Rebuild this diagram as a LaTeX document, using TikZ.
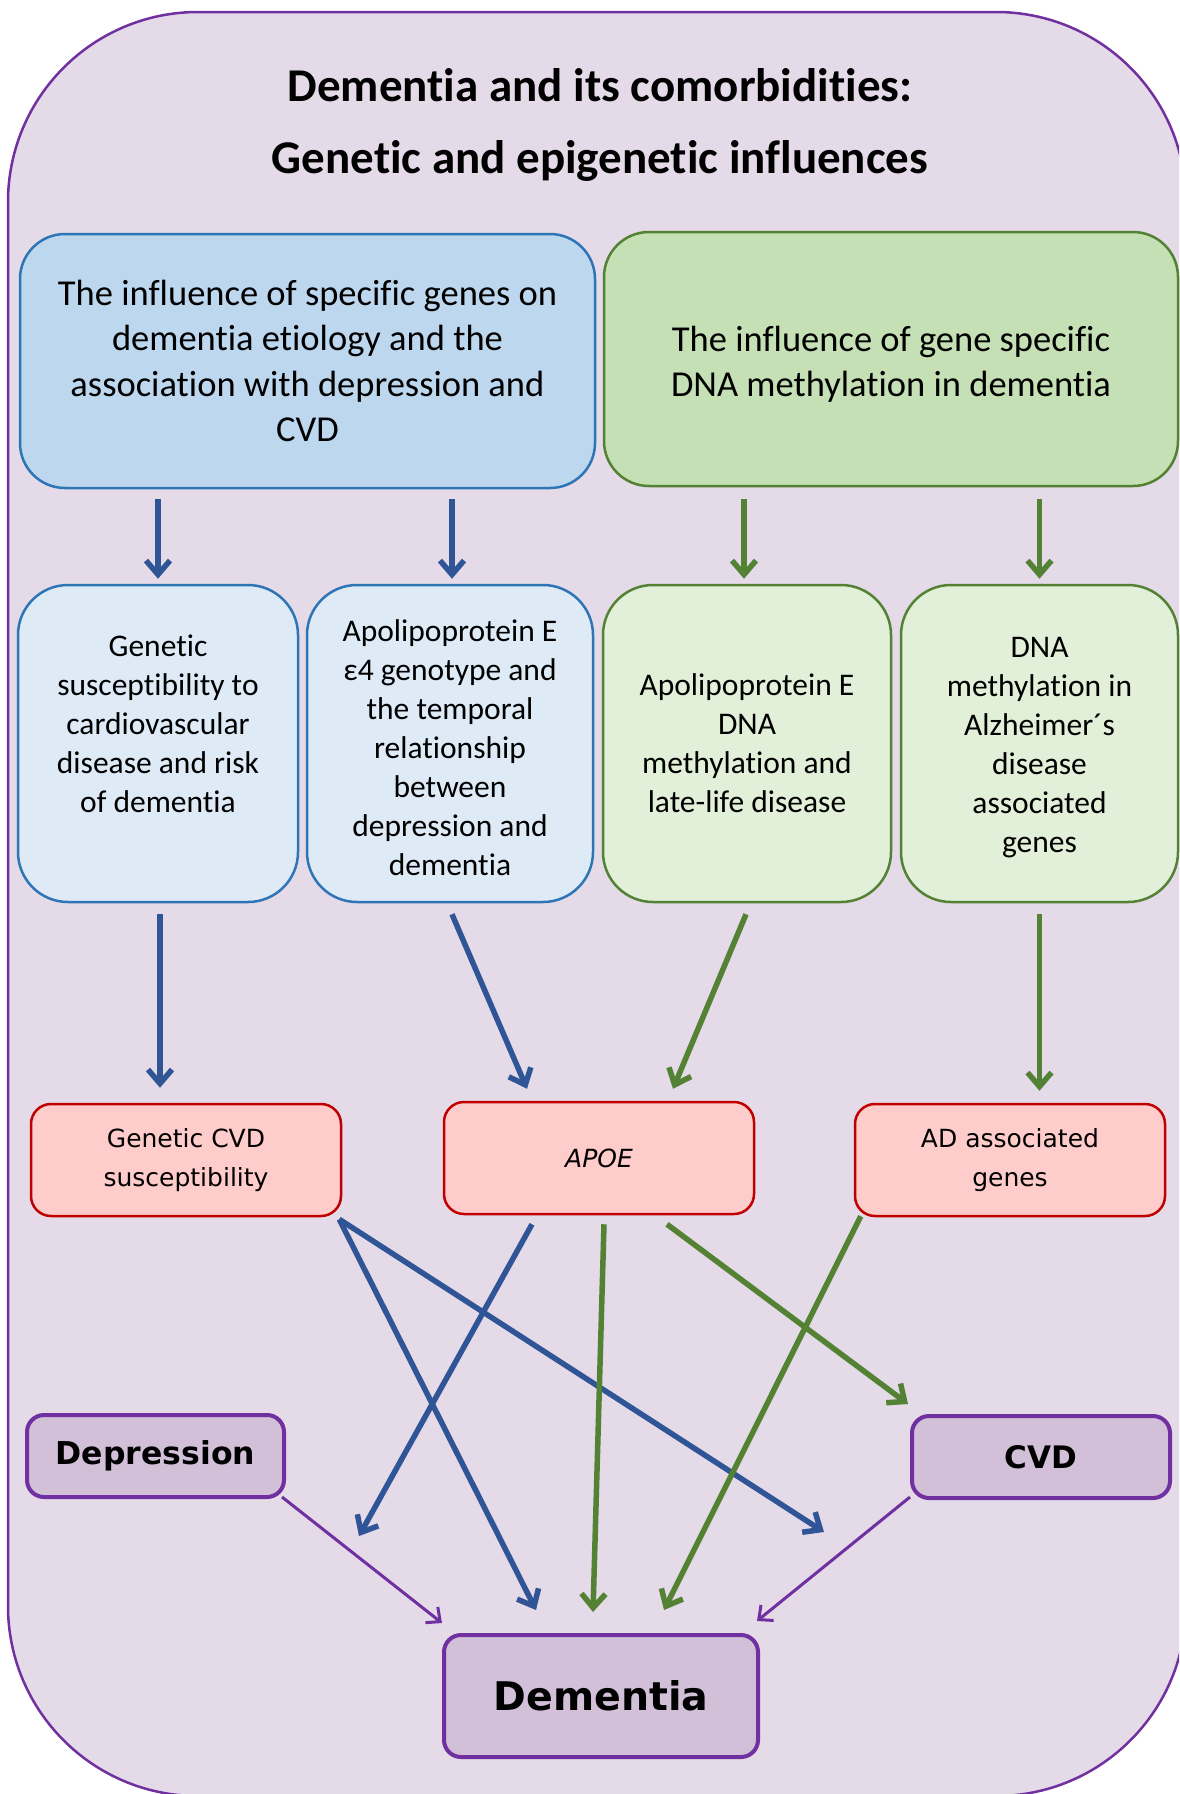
\documentclass[tikz,border=0pt]{standalone}
\usepackage{fontspec}
\setmainfont{Carlito}[Ligatures=NoCommon]
\newfontfamily\vfont{DejaVu Sans}
\usetikzlibrary{arrows.meta,calc}
\definecolor{bgl}{RGB}{228,218,232}
\definecolor{purp}{RGB}{112,48,160}
\definecolor{tbfill}{RGB}{189,215,238}
\definecolor{tbdraw}{RGB}{46,117,182}
\definecolor{rbfill}{RGB}{222,235,247}
\definecolor{tgfill}{RGB}{197,224,180}
\definecolor{tgdraw}{RGB}{84,130,53}
\definecolor{rgfill}{RGB}{226,240,217}
\definecolor{pkfill}{RGB}{255,204,204}
\definecolor{pkdraw}{RGB}{192,0,0}
\definecolor{lvfill}{RGB}{209,192,216}
\definecolor{arblue}{RGB}{47,85,151}
\definecolor{argreen}{RGB}{84,130,53}
\tikzset{
  topbox/.style={draw, line width=2.5pt, rounded corners=45pt, minimum width=575pt, minimum height=254pt, inner sep=0pt, align=center, font=\fontsize{36.5}{45.5}\selectfont},
  midbox/.style={draw, line width=2.5pt, rounded corners=50pt, minimum height=317pt, inner sep=0pt, align=center, font=\fontsize{31.5}{39}\selectfont},
  pinkbox/.style={draw=pkdraw, fill=pkfill, line width=2.5pt, rounded corners=20pt, minimum width=310pt, minimum height=112pt, inner sep=0pt, align=center, font=\vfont\fontsize{25}{39}\selectfont},
  lavbox/.style={draw=purp, fill=lvfill, line width=4pt, rounded corners=17pt, inner sep=0pt, align=center},
  barrow/.style={draw=arblue, line width=5.5pt, -{Straight Barb[length=14pt,width=24pt]}},
  garrow/.style={draw=argreen, line width=5.5pt, -{Straight Barb[length=14pt,width=24pt]}},
  parrow/.style={draw=purp, line width=3pt, -{Straight Barb[length=11pt,width=20pt]}}
}
\begin{document}
\begin{tikzpicture}[x=1pt,y=-1pt]
\useasboundingbox (0,0) rectangle (1179,1794);
\begin{scope}
\clip (0,0) rectangle (1179,1794);
\draw[draw=purp, fill=bgl, line width=2.5pt, rounded corners=190pt] (8,12) rectangle (1186,1796);
\end{scope}

\node[align=center, font=\fontsize{47}{72}\selectfont\bfseries] (title) at (600,125)
  {Dementia and its comorbidities:\\Genetic and epigenetic influences};

\node[topbox, fill=tbfill, draw=tbdraw] (tb) at (307.5,361)
  {The influence of specific genes on\\dementia etiology and the\\association with depression and\\CVD};
\node[topbox, fill=tgfill, draw=tgdraw, minimum width=574pt] (tg) at (891,359)
  {\rule{0pt}{36pt}The influence of gene specific\\DNA methylation in dementia};

\node[midbox, fill=rbfill, draw=tbdraw, minimum width=280pt] (r1) at (158,743.5)
  {Genetic\\susceptibility to\\cardiovascular\\disease and risk\\of dementia\\ };
\node[midbox, fill=rbfill, draw=tbdraw, minimum width=286pt] (r2) at (450,743.5)
  {\rule{0pt}{31pt}Apolipoprotein E\\ε4 genotype and\\the temporal\\relationship\\between\\depression and\\dementia};
\node[midbox, fill=rgfill, draw=tgdraw, minimum width=288pt] (r3) at (747,743.5)
  {Apolipoprotein E\\DNA\\methylation and\\late-life disease};
\node[midbox, fill=rgfill, draw=tgdraw, minimum width=277pt] (r4) at (1039.5,743.5)
  {\rule{0pt}{27.5pt}DNA\\methylation in\\Alzheimer´s\\disease\\associated\\genes};

\node[pinkbox] (p1) at (186,1160) {Genetic CVD\\susceptibility};
\node[pinkbox] (p2) at (599,1158) {\itshape APOE};
\node[pinkbox] (p3) at (1010,1160) {AD associated\\genes};

\node[lavbox, minimum width=257pt, minimum height=82pt, font=\vfont\bfseries\fontsize{31.5}{36}\selectfont] (dep) at (155.5,1456) {Depression};
\node[lavbox, minimum width=258pt, minimum height=82pt, font=\vfont\bfseries\fontsize{31}{36}\selectfont] (cvd) at (1041,1457) {CVD};
\node[lavbox, minimum width=314pt, minimum height=122pt, font=\vfont\bfseries\fontsize{39.5}{46}\selectfont] (dem) at (601,1696) {Dementia};

% top arrows
\draw[barrow, shorten <=10pt, shorten >=5pt] (r1.north |- tb.south) -- (r1.north);
\draw[barrow, shorten <=10pt, shorten >=5pt] ($(r2.north |- tb.south)+(2,0)$) -- ($(r2.north)+(2,0)$);
\draw[garrow, shorten <=12pt, shorten >=5pt] ($(r3.north |- tg.south)+(-3,0)$) -- ($(r3.north)+(-3,0)$);
\draw[garrow, shorten <=12pt, shorten >=5pt] (r4.north |- tg.south) -- (r4.north);

% middle arrows
\draw[barrow] ($(r1.south)+(2,11)$) -- ($(r1.south |- p1.north)+(2,-15)$);
\draw[barrow] ($(r2.south)+(2,11)$) -- ($(p2.north)+(-72,-12)$);
\draw[garrow] ($(r3.south)+(-1,11)$) -- ($(p2.north)+(74,-12)$);
\draw[garrow] ($(r4.south)+(0,11)$) -- ($(r4.south |- p3.north)+(0,-12)$);

% free ends
\coordinate (bfree) at ($(cvd.south west)+(-86,32)$);
\coordinate (bfree2) at ($(dep.south east)+(73,37)$);

% lower arrows
\draw[barrow] ($(p1.south east)+(-3,2)$) -- ($(dem.north)+(-65,-23)$);
\draw[barrow] ($(p1.south east)+(-3,2)$) -- (bfree);
\draw[barrow] ($(p2.south)+(-67,9)$) -- (bfree2);
\draw[garrow] ($(p2.south)+(5,9)$) -- ($(dem.north)+(-8,-21)$);
\draw[garrow] ($(p2.south)+(68,9)$) -- ($(cvd.north west)+(-2,-10)$);
\draw[garrow] ($(p3.south west)+(7,-1)$) -- ($(dem.north)+(63,-23)$);
\draw[parrow] ($(dep.south east)+(-4,-2)$) -- ($(dem.north west)+(0,-10)$);
\draw[parrow] ($(cvd.south west)+(0,-3)$) -- ($(dem.north east)+(-3,-12)$);
\end{tikzpicture}
\end{document}
